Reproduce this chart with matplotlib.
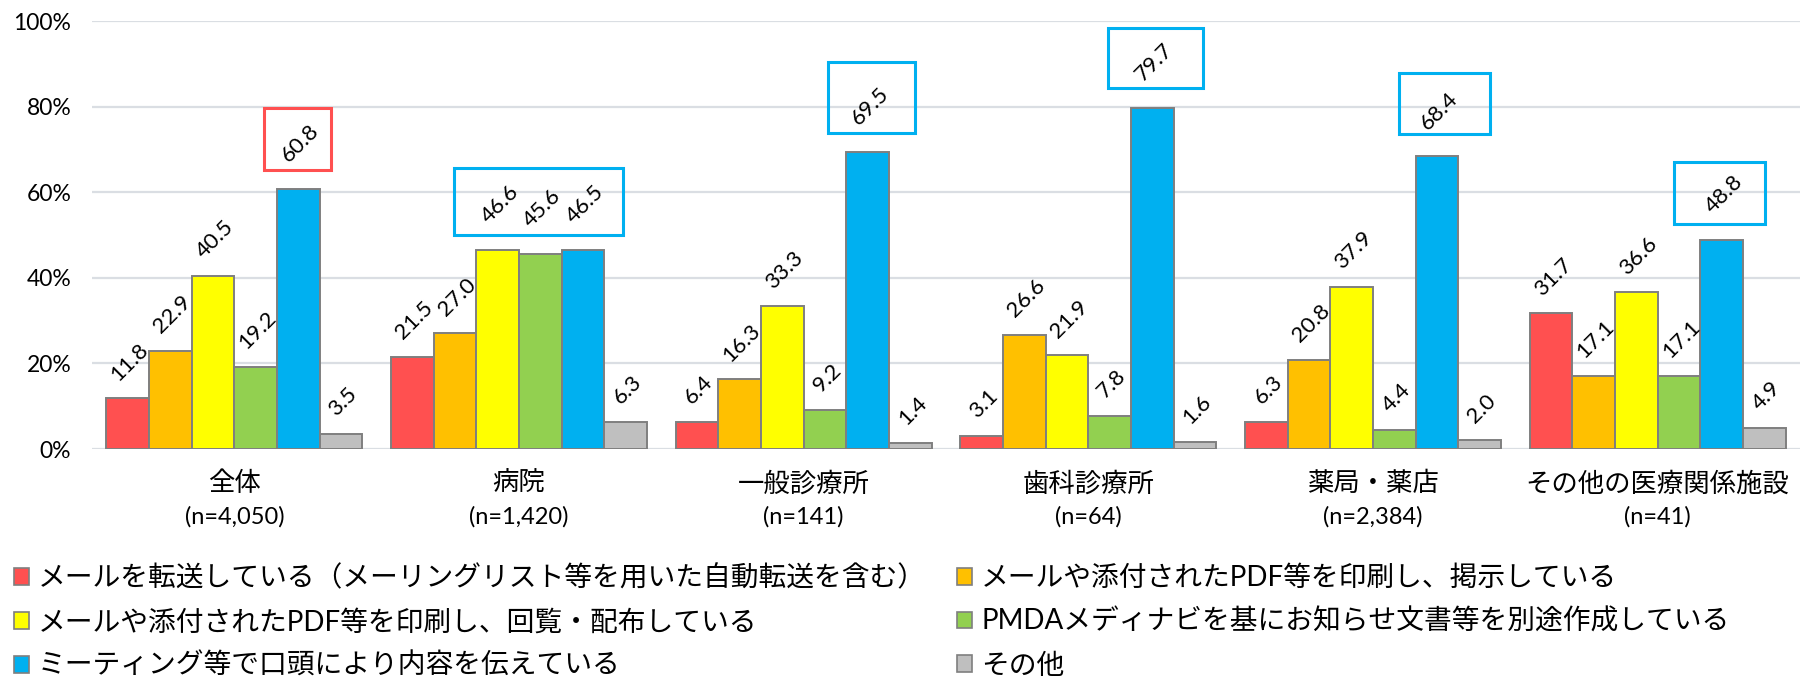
import matplotlib
matplotlib.use("Agg")
import matplotlib.pyplot as plt
import numpy as np
from matplotlib.patches import Patch, Rectangle
from matplotlib.transforms import Bbox

plt.rcParams['font.family'] = ['Lato', 'Noto Sans CJK JP', 'DejaVu Sans']

# ---- data -------------------------------------------------------------
categories = ["全体", "病院", "一般診療所", "歯科診療所", "薬局・薬店", "その他の医療関係施設"]
sample_sizes = ["(n=4,050)", "(n=1,420)", "(n=141)", "(n=64)", "(n=2,384)", "(n=41)"]

series_names = [
    "メールを転送している（メーリングリスト等を用いた自動転送を含む）",
    "メールや添付されたPDF等を印刷し、掲示している",
    "メールや添付されたPDF等を印刷し、回覧・配布している",
    "PMDAメディナビを基にお知らせ文書等を別途作成している",
    "ミーティング等で口頭により内容を伝えている",
    "その他",
]
forward_mail = [11.8, 21.5, 6.4, 3.1, 6.3, 31.7]
print_post = [22.9, 27.0, 16.3, 26.6, 20.8, 17.1]
print_circulate = [40.5, 46.6, 33.3, 21.9, 37.9, 36.6]
pmda_documents = [19.2, 45.6, 9.2, 7.8, 4.4, 17.1]
oral_meeting = [60.8, 46.5, 69.5, 79.7, 68.4, 48.8]
other = [3.5, 6.3, 1.4, 1.6, 2.0, 4.9]
series_values = [forward_mail, print_post, print_circulate, pmda_documents, oral_meeting, other]

y_ticks = [0, 20, 40, 60, 80, 100]
y_tick_labels = ["0%", "20%", "40%", "60%", "80%", "100%"]

colors = ["#FF5050", "#FFC000", "#FFFF00", "#92D050", "#00B0F0", "#BFBFBF"]

# value labels framed by a box:
# (group index, series indices, frame colour, padding left/right/bottom/top in px)
framed_labels = [
    (0, [4], "#FF5050", (14, 8, 4, 13)),
    (1, [2, 3, 4], "#00B0F0", (23, 15, 4, 13)),
    (2, [4], "#00B0F0", (19, 23, 4, 21)),
    (3, [4], "#00B0F0", (24, 26, 3, 12)),
    (4, [4], "#00B0F0", (17, 28, 1, 15)),
    (5, [4], "#00B0F0", (27, 19, 7, 10)),
]

# ---- figure -----------------------------------------------------------
W, H = 1804, 679
fig = plt.figure(figsize=(W / 100, H / 100), dpi=100)
ax = fig.add_axes([92 / W, 1 - 449 / H, (1800 - 92) / W, (449 - 21) / H])

framed = {(g, s) for g, ss, _, _ in framed_labels for s in ss}

x = np.arange(len(categories))
bar_w = 0.15
labels = {}
for j, (vals, col) in enumerate(zip(series_values, colors)):
    xs = x + (j - 2.5) * bar_w
    ax.bar(xs, vals, width=bar_w, color=col, edgecolor="#7F7F7F",
           linewidth=1.4, zorder=3)
    for i, (xc, v) in enumerate(zip(xs, vals)):
        dy = 16.5 if (i, j) in framed else 10
        labels[(i, j)] = ax.annotate(
            f"{v:.1f}", xy=(xc, v), xytext=(1.5, dy), textcoords="offset points",
            rotation=45, ha="center", va="bottom", fontsize=16, color="black",
            zorder=4)

ax.set_xlim(-0.5, len(categories) - 0.5)
ax.set_ylim(0, 100)
ax.set_yticks(y_ticks)
ax.set_yticklabels(y_tick_labels, fontsize=16.5)
ax.set_xticks(x)
ax.set_xticklabels([])
ax.tick_params(axis="both", length=0)
ax.tick_params(axis="y", pad=15)
ax.grid(axis="y", color="#DADEE3", linewidth=1.6, zorder=0)
for s in ax.spines.values():
    s.set_visible(False)

# category names with sample sizes underneath
xaxis_tf = ax.get_xaxis_transform()
for xc, name, n in zip(x, categories, sample_sizes):
    ax.annotate(name, xy=(xc, 0), xycoords=xaxis_tf, xytext=(0, -25),
                textcoords="offset points", ha="center", va="center", fontsize=19)
    ax.annotate(n, xy=(xc, 0), xycoords=xaxis_tf, xytext=(0, -49),
                textcoords="offset points", ha="center", va="center", fontsize=17)

# ---- legend (two columns, read row by row) ----------------------------
handles = [Patch(facecolor=c, edgecolor="#7F7F7F", linewidth=1.2) for c in colors]
left_idx = [0, 2, 4]
right_idx = [1, 3, 5]
leg_kw = dict(loc="upper left", frameon=False, fontsize=20, handlelength=0.55,
              handleheight=0.55, handletextpad=0.32, labelspacing=0.64,
              borderpad=0, borderaxespad=0)
leg1 = fig.legend([handles[k] for k in left_idx], [series_names[k] for k in left_idx],
                  bbox_to_anchor=(14 / W, 1 - 565 / H), **leg_kw)
leg2 = fig.legend([handles[k] for k in right_idx], [series_names[k] for k in right_idx],
                  bbox_to_anchor=(957 / W, 1 - 565 / H), **leg_kw)

# ---- frames around highlighted value labels ---------------------------
fig.canvas.draw()
renderer = fig.canvas.get_renderer()
inv = fig.transFigure.inverted()
for gi, sidx, col, (pl, pr, pb, pt) in framed_labels:
    bb = Bbox.union([labels[(gi, s)].get_window_extent(renderer) for s in sidx])
    bb = Bbox.from_extents(bb.x0 - pl, bb.y0 - pb, bb.x1 + pr, bb.y1 + pt)
    (fx0, fy0), (fx1, fy1) = inv.transform([(bb.x0, bb.y0), (bb.x1, bb.y1)])
    fig.add_artist(Rectangle((fx0, fy0), fx1 - fx0, fy1 - fy0, fill=False,
                             edgecolor=col, linewidth=2.2,
                             transform=fig.transFigure))

fig.savefig("out.png", dpi=100)
